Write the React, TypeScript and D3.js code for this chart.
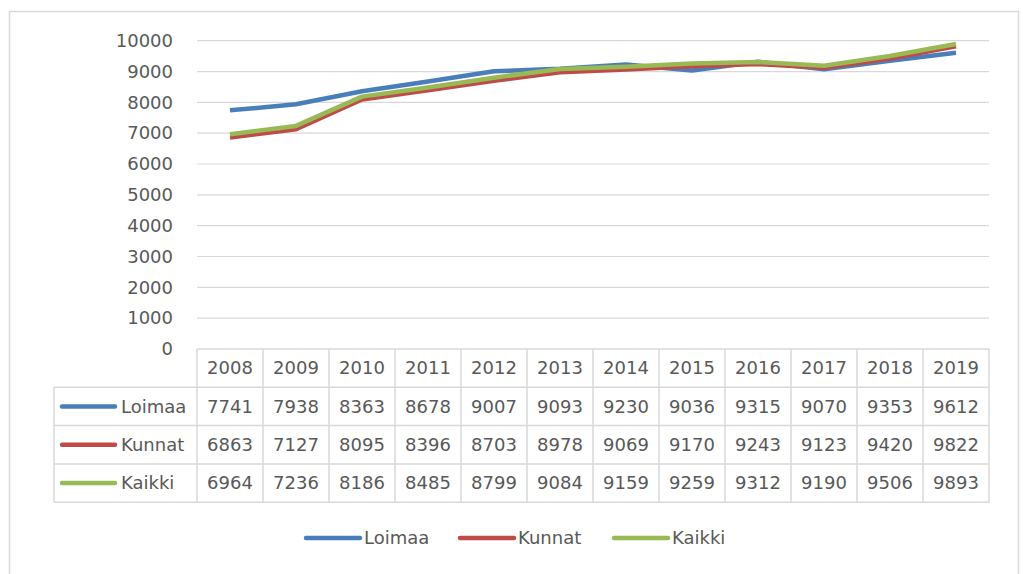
import React, { useEffect, useRef } from "react";
import * as d3 from "d3";

const years = ["2008", "2009", "2010", "2011", "2012", "2013", "2014", "2015", "2016", "2017", "2018", "2019"];
const loimaa = [7741, 7938, 8363, 8678, 9007, 9093, 9230, 9036, 9315, 9070, 9353, 9612];
const kunnat = [6863, 7127, 8095, 8396, 8703, 8978, 9069, 9170, 9243, 9123, 9420, 9822];
const kaikki = [6964, 7236, 8186, 8485, 8799, 9084, 9159, 9259, 9312, 9190, 9506, 9893];
const seriesNames = ["Loimaa", "Kunnat", "Kaikki"];
const seriesColors = ["#4a7ebb", "#be4b48", "#98b954"];
const yTicks = [0, 1000, 2000, 3000, 4000, 5000, 6000, 7000, 8000, 9000, 10000];

const W = 1023,
  H = 574;
const plotLeft = 197,
  plotRight = 989,
  plotTop = 40.7,
  plotBottom = 349;
const tableLeft = 54;
const rowH = 38.3;
const font = "DejaVu Sans";
const textColor = "#595959";
const gridColor = "#d9d9d9";

export default function App() {
  const ref = useRef<SVGSVGElement>(null);

  useEffect(() => {
    const svg = d3.select(ref.current);
    svg.selectAll("*").remove();

    const series = [loimaa, kunnat, kaikki];

    const x = d3.scaleBand().domain(years).range([plotLeft, plotRight]);
    const y = d3.scaleLinear().domain([0, 10000]).range([plotBottom, plotTop]);

    // chart frame
    svg
      .append("rect")
      .attr("x", 9.5)
      .attr("y", 11.5)
      .attr("width", 1009)
      .attr("height", 600)
      .attr("fill", "#fff")
      .attr("stroke", gridColor)
      .attr("stroke-width", 1.5);

    // gridlines
    svg
      .append("g")
      .selectAll("line")
      .data(yTicks.filter((d) => d > 0))
      .enter()
      .append("line")
      .attr("x1", plotLeft)
      .attr("x2", plotRight)
      .attr("y1", (d) => y(d))
      .attr("y2", (d) => y(d))
      .attr("stroke", gridColor)
      .attr("stroke-width", 1.2);

    // y labels
    svg
      .append("g")
      .selectAll("text")
      .data(yTicks)
      .enter()
      .append("text")
      .attr("x", 173)
      .attr("y", (d) => y(d))
      .attr("dy", "0.35em")
      .attr("text-anchor", "end")
      .style("font-family", font)
      .style("font-size", "18px")
      .style("fill", textColor)
      .text((d) => d);

    // lines
    const line = d3
      .line<number>()
      .x((d, i) => (x(years[i]) as number) + x.bandwidth() / 2)
      .y((d) => y(d));

    series.forEach((s, i) => {
      svg
        .append("path")
        .datum(s)
        .attr("fill", "none")
        .attr("stroke", seriesColors[i])
        .attr("stroke-width", 4.5)
        .attr("stroke-linejoin", "round")
        .attr("d", line);
    });

    // data table
    const table = svg.append("g");
    const tableBottom = plotBottom + rowH * 4;

    // horizontal rules
    table
      .append("line")
      .attr("x1", plotLeft)
      .attr("x2", plotRight)
      .attr("y1", plotBottom)
      .attr("y2", plotBottom)
      .attr("stroke", gridColor)
      .attr("stroke-width", 1.5);
    for (let r = 1; r <= 4; r++) {
      table
        .append("line")
        .attr("x1", tableLeft)
        .attr("x2", plotRight)
        .attr("y1", plotBottom + r * rowH)
        .attr("y2", plotBottom + r * rowH)
        .attr("stroke", gridColor)
        .attr("stroke-width", 1.5);
    }
    // vertical rules
    table
      .append("line")
      .attr("x1", tableLeft)
      .attr("x2", tableLeft)
      .attr("y1", plotBottom + rowH)
      .attr("y2", tableBottom)
      .attr("stroke", gridColor)
      .attr("stroke-width", 1.5);
    years.concat(["end"]).forEach((yr, i) => {
      const xx = i < years.length ? (x(yr) as number) : plotRight;
      table
        .append("line")
        .attr("x1", xx)
        .attr("x2", xx)
        .attr("y1", plotBottom)
        .attr("y2", tableBottom)
        .attr("stroke", gridColor)
        .attr("stroke-width", 1.5);
    });

    // header years
    table
      .selectAll("text.year")
      .data(years)
      .enter()
      .append("text")
      .attr("class", "year")
      .attr("x", (d) => (x(d) as number) + x.bandwidth() / 2)
      .attr("y", plotBottom + rowH / 2)
      .attr("dy", "0.35em")
      .attr("text-anchor", "middle")
      .style("font-family", font)
      .style("font-size", "18px")
      .style("fill", textColor)
      .text((d) => d);

    series.forEach((s, r) => {
      const cy = plotBottom + (r + 1) * rowH + rowH / 2;
      table
        .append("line")
        .attr("x1", 62)
        .attr("x2", 115)
        .attr("y1", cy)
        .attr("y2", cy)
        .attr("stroke", seriesColors[r])
        .attr("stroke-width", 4.5)
        .attr("stroke-linecap", "round");
      table
        .append("text")
        .attr("x", 121)
        .attr("y", cy)
        .attr("dy", "0.35em")
        .style("font-family", font)
        .style("font-size", "18px")
        .style("fill", textColor)
        .text(seriesNames[r]);
      table
        .append("g")
        .selectAll("text")
        .data(s)
        .enter()
        .append("text")
        .attr("x", (d, i) => (x(years[i]) as number) + x.bandwidth() / 2)
        .attr("y", cy)
        .attr("dy", "0.35em")
        .attr("text-anchor", "middle")
        .style("font-family", font)
        .style("font-size", "18px")
        .style("fill", textColor)
        .text((d) => d);
    });

    // bottom legend
    const legendX = [306, 460, 614];
    const ly = 538;
    seriesNames.forEach((name, i) => {
      svg
        .append("line")
        .attr("x1", legendX[i])
        .attr("x2", legendX[i] + 54)
        .attr("y1", ly)
        .attr("y2", ly)
        .attr("stroke", seriesColors[i])
        .attr("stroke-width", 4.5)
        .attr("stroke-linecap", "round");
      svg
        .append("text")
        .attr("x", legendX[i] + 58)
        .attr("y", ly)
        .attr("dy", "0.35em")
        .style("font-family", font)
        .style("font-size", "18px")
        .style("fill", textColor)
        .text(name);
    });
  }, []);

  return (
    <svg
      ref={ref}
      width={W}
      height={H}
      style={{ position: "absolute", left: 0, top: 0, background: "#fff" }}
    />
  );
}
